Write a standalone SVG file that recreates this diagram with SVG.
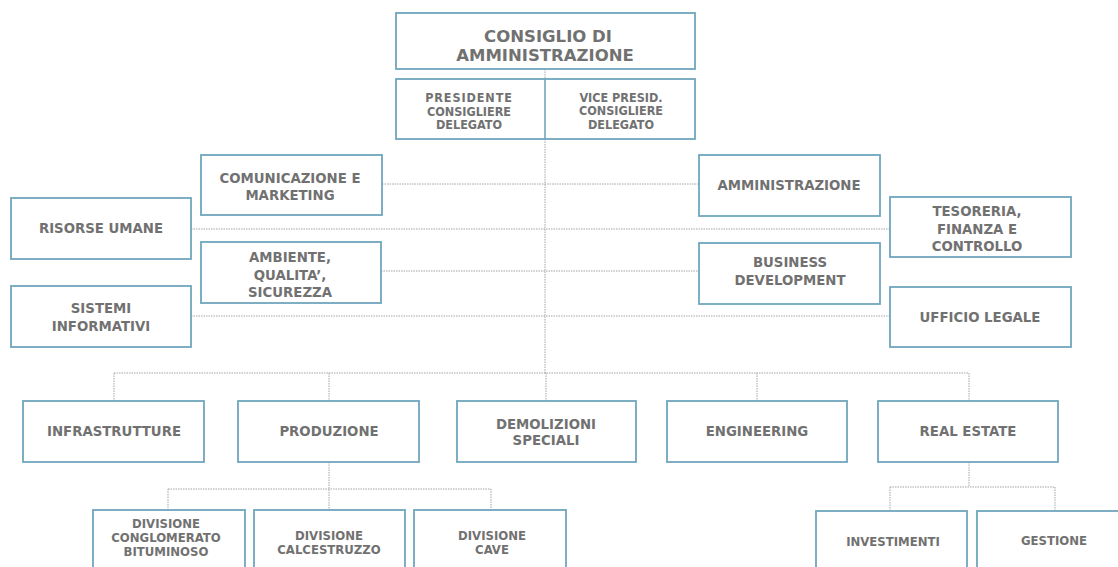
<svg xmlns="http://www.w3.org/2000/svg" width="1118" height="567" viewBox="0 0 1118 567">
  <style>
    .box { fill: #ffffff; stroke: #6fa6bd; stroke-width: 1.8; }
    .div { stroke: #6fa6bd; stroke-width: 1.6; }
    .lnk { fill: none; stroke: #a0a4a8; stroke-width: 1; stroke-dasharray: 1.5 1; }
    text { font-family: "DejaVu Sans", Verdana, sans-serif; font-weight: bold; fill: #717171; text-anchor: middle; }
    .t16 { font-size: 16.5px; }
    .t13 { font-size: 13.3px; }
    .t12c { font-size: 12.5px; font-stretch: condensed; font-family: "DejaVu Sans Condensed", "DejaVu Sans", sans-serif; }
    .t13c { font-size: 13px; font-stretch: condensed; font-family: "DejaVu Sans Condensed", "DejaVu Sans", sans-serif; }
  </style>

  <rect x="0" y="0" width="1118" height="567" fill="#ffffff"/>

  <!-- connectors -->
  <g id="connectors">
    <path class="lnk" d="M545 69 V79"/>
    <path class="lnk" d="M545 139 V373"/>
    <path class="lnk" d="M382 184 H699"/>
    <path class="lnk" d="M191 229 H890"/>
    <path class="lnk" d="M381 271 H699"/>
    <path class="lnk" d="M191 316 H890"/>
    <path class="lnk" d="M114 373 H969"/>
    <path class="lnk" d="M114 373 V401 M329 373 V401 M546 373 V401 M757 373 V401 M969 373 V401"/>
    <path class="lnk" d="M329 462 V510"/>
    <path class="lnk" d="M168 489 H491 M168 489 V510 M491 489 V510"/>
    <path class="lnk" d="M969 462 V487"/>
    <path class="lnk" d="M890 487 H1055 M890 487 V511 M1055 487 V511"/>
  </g>

  <g id="consiglio">
    <rect class="box" x="396" y="13" width="299" height="56"/>
    <text class="t16" x="548" y="42">CONSIGLIO DI</text>
    <text class="t16" x="545" y="61">AMMINISTRAZIONE</text>
  </g>

  <g id="presidenza">
    <rect class="box" x="396" y="79" width="299" height="60"/>
    <line class="div" x1="545" y1="79" x2="545" y2="139"/>
    <text class="t12c" x="469" y="102" letter-spacing="0.9">PRESIDENTE</text>
    <text class="t12c" x="469" y="115.5">CONSIGLIERE</text>
    <text class="t12c" x="469" y="129">DELEGATO</text>
    <text class="t12c" x="621" y="101.5">VICE PRESID.</text>
    <text class="t12c" x="621" y="115">CONSIGLIERE</text>
    <text class="t12c" x="621" y="128.5">DELEGATO</text>
  </g>

  <g id="comunicazione">
    <rect class="box" x="201" y="155" width="181" height="60"/>
    <text class="t13" x="290" y="183">COMUNICAZIONE E</text>
    <text class="t13" x="290" y="199.5">MARKETING</text>
  </g>

  <g id="risorse-umane">
    <rect class="box" x="11" y="198" width="180" height="61"/>
    <text class="t13" x="101" y="233">RISORSE UMANE</text>
  </g>

  <g id="ambiente">
    <rect class="box" x="201" y="242" width="180" height="61"/>
    <text class="t13" x="290" y="262">AMBIENTE,</text>
    <text class="t13" x="290" y="279.5">QUALITA’,</text>
    <text class="t13" x="290" y="297">SICUREZZA</text>
  </g>

  <g id="sistemi-informativi">
    <rect class="box" x="11" y="286" width="180" height="61"/>
    <text class="t13" x="101" y="313">SISTEMI</text>
    <text class="t13" x="101" y="331">INFORMATIVI</text>
  </g>

  <g id="amministrazione">
    <rect class="box" x="699" y="155" width="181" height="61"/>
    <text class="t13" x="789" y="190">AMMINISTRAZIONE</text>
  </g>

  <g id="tesoreria">
    <rect class="box" x="890" y="197" width="181" height="60"/>
    <text class="t13" x="977" y="216">TESORERIA,</text>
    <text class="t13" x="977" y="234">FINANZA E</text>
    <text class="t13" x="977" y="251">CONTROLLO</text>
  </g>

  <g id="business-development">
    <rect class="box" x="699" y="243" width="181" height="61"/>
    <text class="t13" x="790" y="267">BUSINESS</text>
    <text class="t13" x="790" y="285">DEVELOPMENT</text>
  </g>

  <g id="ufficio-legale">
    <rect class="box" x="890" y="287" width="181" height="60"/>
    <text class="t13" x="980" y="322">UFFICIO LEGALE</text>
  </g>

  <g id="infrastrutture">
    <rect class="box" x="23" y="401" width="181" height="61"/>
    <text class="t13" x="114" y="436">INFRASTRUTTURE</text>
  </g>

  <g id="produzione">
    <rect class="box" x="238" y="401" width="181" height="61"/>
    <text class="t13" x="329" y="436">PRODUZIONE</text>
  </g>

  <g id="demolizioni">
    <rect class="box" x="457" y="401" width="179" height="61"/>
    <text class="t13" x="546" y="429">DEMOLIZIONI</text>
    <text class="t13" x="546" y="445">SPECIALI</text>
  </g>

  <g id="engineering">
    <rect class="box" x="667" y="401" width="180" height="61"/>
    <text class="t13" x="757" y="436">ENGINEERING</text>
  </g>

  <g id="real-estate">
    <rect class="box" x="878" y="401" width="180" height="61"/>
    <text class="t13" x="968" y="436">REAL ESTATE</text>
  </g>

  <g id="div-conglomerato">
    <rect class="box" x="93" y="510" width="152" height="70"/>
    <text class="t13c" x="166" y="527.5">DIVISIONE</text>
    <text class="t13c" x="166" y="541.5">CONGLOMERATO</text>
    <text class="t13c" x="166" y="555.5">BITUMINOSO</text>
  </g>

  <g id="div-calcestruzzo">
    <rect class="box" x="254" y="510" width="151" height="70"/>
    <text class="t13c" x="329" y="539.5">DIVISIONE</text>
    <text class="t13c" x="329" y="553.5">CALCESTRUZZO</text>
  </g>

  <g id="div-cave">
    <rect class="box" x="414" y="510" width="152" height="70"/>
    <text class="t13c" x="492" y="539.5">DIVISIONE</text>
    <text class="t13c" x="492" y="553.5">CAVE</text>
  </g>

  <g id="investimenti">
    <rect class="box" x="816" y="511" width="151" height="70"/>
    <text class="t13c" x="893" y="546">INVESTIMENTI</text>
  </g>

  <g id="gestione">
    <rect class="box" x="977" y="511" width="151" height="70"/>
    <text class="t13c" x="1054" y="545">GESTIONE</text>
  </g>
</svg>
